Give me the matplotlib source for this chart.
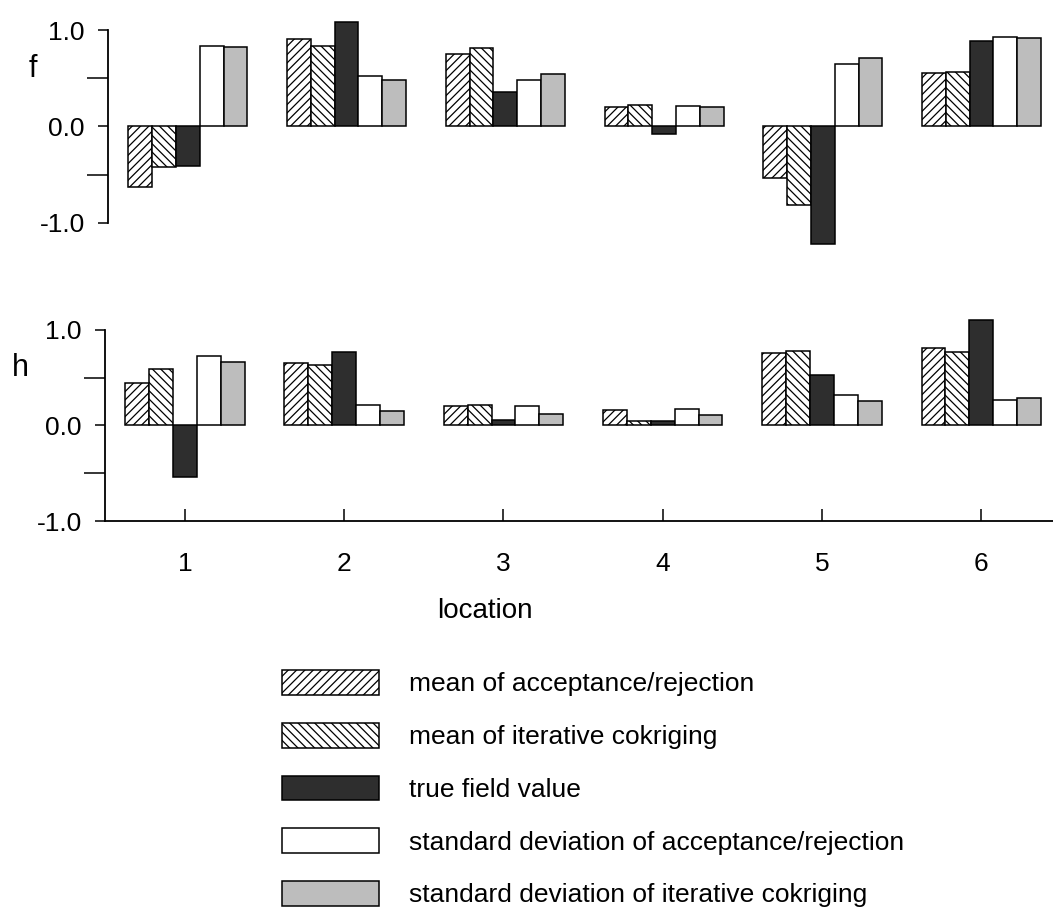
import numpy as np
import matplotlib
matplotlib.use("Agg")
import matplotlib.pyplot as plt
from matplotlib.patches import Patch
from matplotlib.ticker import FixedLocator

plt.rcParams['font.family'] = ['Liberation Sans', 'DejaVu Sans']
plt.rcParams['hatch.linewidth'] = 0.9

# locations and the five series for each variable
locations = [1, 2, 3, 4, 5, 6]
series_names = ["mean of acceptance/rejection",
                "mean of iterative cokriging",
                "true field value",
                "standard deviation of acceptance/rejection",
                "standard deviation of iterative cokriging"]

acc_mean_f = [-0.63, 0.91, 0.75, 0.20, -0.54, 0.56]
ick_mean_f = [-0.42, 0.84, 0.81, 0.22, -0.82, 0.57]
true_f     = [-0.41, 1.08, 0.36, -0.08, -1.22, 0.89]
acc_sd_f   = [0.84, 0.52, 0.48, 0.21, 0.65, 0.93]
ick_sd_f   = [0.83, 0.48, 0.54, 0.20, 0.71, 0.92]

acc_mean_h = [0.44, 0.65, 0.20, 0.16, 0.76, 0.81]
ick_mean_h = [0.59, 0.63, 0.21, 0.05, 0.78, 0.77]
true_h     = [-0.54, 0.77, 0.06, 0.05, 0.53, 1.10]
acc_sd_h   = [0.72, 0.21, 0.20, 0.17, 0.32, 0.27]
ick_sd_h   = [0.66, 0.15, 0.12, 0.11, 0.26, 0.29]

# fill / hatch for each series
styles = [dict(facecolor='white', hatch='////'),
          dict(facecolor='white', hatch='\\\\\\\\'),
          dict(facecolor='#2e2e2e', hatch=None),
          dict(facecolor='white', hatch=None),
          dict(facecolor='#bdbdbd', hatch=None)]

width = 0.15
x = np.array(locations, dtype=float)

fig = plt.figure(figsize=(10.53, 9.13), dpi=100)
ax_f = fig.add_axes([0.103, 0.756, 0.897, 0.211])
ax_h = fig.add_axes([0.100, 0.429, 0.900, 0.210])


def draw_panel(ax, data, label, label_x):
    for i, vals in enumerate(data):
        ax.bar(x + (i - 2) * width, vals, width, edgecolor='black',
               linewidth=1.1, clip_on=False, **styles[i])
    ax.set_xlim(0.5, 6.45)
    ax.set_ylim(-1.0, 1.0)
    ax.set_yticks([-1.0, 0.0, 1.0])
    ax.set_yticklabels(["-1.0", "0.0", "1.0"])
    ax.yaxis.set_minor_locator(FixedLocator([-0.5, 0.5]))
    ax.tick_params(axis='y', which='major', direction='out', length=7,
                   width=1.1, pad=10, labelsize=19)
    ax.tick_params(axis='y', which='minor', direction='out', length=15,
                   width=1.1)
    for s in ['top', 'right']:
        ax.spines[s].set_visible(False)
    ax.spines['left'].set_linewidth(1.3)
    ax.text(label_x, 0.80, label, transform=ax.transAxes, fontsize=22,
            ha='center', va='center')


draw_panel(ax_f, [acc_mean_f, ick_mean_f, true_f, acc_sd_f, ick_sd_f], "f", -0.08)
draw_panel(ax_h, [acc_mean_h, ick_mean_h, true_h, acc_sd_h, ick_sd_h], "h", -0.09)

# top panel has no x axis
ax_f.spines['bottom'].set_visible(False)
ax_f.set_xticks([])

ax_h.spines['bottom'].set_linewidth(1.3)
ax_h.set_xticks(locations)
ax_h.tick_params(axis='x', direction='in', length=9, width=1.1, pad=22,
                 labelsize=19)
ax_h.set_xlabel("location", fontsize=20)
ax_h.xaxis.set_label_coords(0.40, -0.40)

# legend below the plots
handles = [Patch(edgecolor='black', linewidth=1.1, **st) for st in styles]
fig.legend(handles, series_names, loc='upper left',
           bbox_to_anchor=(0.268, 0.266), frameon=False, fontsize=19,
           handlelength=3.65, handleheight=1.06, handletextpad=1.17,
           labelspacing=1.0, borderpad=0, borderaxespad=0)

fig.savefig("out.png", dpi=100)
